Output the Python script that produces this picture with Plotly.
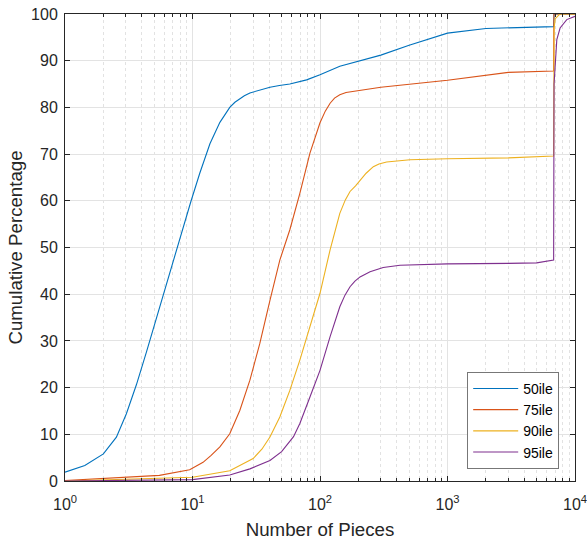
import plotly.graph_objects as go

# ---- data ----
x50 = [1, 1.43, 2, 2.53, 3.03, 3.63, 4.35, 5.22, 6.25, 7.49, 8.44, 9.7, 11.4, 13.7, 16.4, 18, 19.6, 21.5, 23.5, 25.5, 28.2, 34, 40.5, 48, 58, 78.5, 100, 143, 200, 300, 500, 1000, 2000, 4000, 6800, 6850, 10000]
y50 = [1.9, 3.3, 5.8, 9.4, 14.4, 20.6, 27.6, 35.0, 42.5, 49.5, 54.2, 59.8, 65.9, 72.2, 76.8, 78.6, 80.0, 81.1, 81.9, 82.5, 83.1, 83.8, 84.3, 84.7, 85.0, 85.9, 87.0, 88.8, 89.9, 91.2, 93.3, 95.9, 96.9, 97.2, 97.3, 100, 100]

x75 = [1, 2, 5.5, 9.5, 12.1, 14, 16.4, 19.6, 23.5, 28.2, 33.7, 40.5, 48.4, 58, 69.5, 83.4, 100, 110, 120, 130, 143, 160, 200, 300, 1000, 3000, 6800, 6830, 10000]
y75 = [0.1, 0.5, 1.2, 2.4, 4.0, 5.5, 7.3, 10.1, 15.1, 21.6, 29.4, 38.7, 47.3, 53.8, 61.6, 70.2, 76.7, 79.2, 80.9, 82.0, 82.7, 83.2, 83.6, 84.3, 85.8, 87.5, 87.8, 100, 100]

x90 = [1, 10, 19.6, 29.9, 35, 40.5, 48.4, 58, 69.5, 83.4, 100, 120, 143, 158, 172, 190, 206, 230, 262, 290, 333, 508, 1000, 3000, 6800, 6860, 7000, 7600, 10000]
y90 = [0.0, 0.8, 2.2, 4.8, 6.8, 9.4, 13.7, 19.4, 25.9, 33.0, 40.2, 49.5, 57.3, 60.2, 62.0, 63.2, 64.4, 65.9, 67.3, 67.9, 68.3, 68.8, 69.0, 69.2, 69.6, 97, 99, 100, 100]

x95 = [1, 10, 19.6, 28.2, 40.5, 50, 62, 69.5, 83.4, 100, 120, 143, 157, 172, 188, 206, 247, 313, 424, 1000, 3000, 5000, 6800, 6850, 7200, 7640, 8620, 10000]
y95 = [0.0, 0.3, 1.3, 2.6, 4.4, 6.3, 9.5, 12.3, 18.0, 23.7, 30.9, 37.3, 39.8, 41.6, 42.8, 43.7, 44.8, 45.7, 46.2, 46.5, 46.6, 46.7, 47.3, 85, 94.5, 97, 98.8, 99.5]

names = ["50ile", "75ile", "90ile", "95ile"]
colors = ["#0072BD", "#D95319", "#EDB120", "#7E2F8E"]

xtick_vals = [1, 10, 100, 1000, 10000]
xtick_text = ["10<sup>0</sup>", "10<sup>1</sup>", "10<sup>2</sup>", "10<sup>3</sup>", "10<sup>4</sup>"]
minor_vals = [m * 10 ** k for k in range(4) for m in range(2, 10)]

fig = go.Figure()
for xs, ys, n, c in zip([x50, x75, x90, x95], [y50, y75, y90, y95], names, colors):
    fig.add_trace(go.Scatter(x=xs, y=ys, mode="lines", name=n,
                             line=dict(color=c, width=1.1)))

FAM = "Liberation Sans, Arial, sans-serif"
tick_font = dict(family=FAM, size=16, color="#262626")
fig.update_layout(
    width=587, height=540,
    margin=dict(l=65, r=12, t=14, b=59),
    paper_bgcolor="white", plot_bgcolor="white",
    font=dict(family=FAM, size=14, color="#262626"),
    showlegend=True,
    legend=dict(x=0.969, y=0.026, xanchor="right", yanchor="bottom",
                bgcolor="white", bordercolor="#777777", borderwidth=1,
                font=dict(family=FAM, size=14, color="#000000"),
                itemwidth=45, tracegroupgap=0),
)
fig.update_xaxes(
    type="log", range=[0, 4], automargin=False,
    tickvals=xtick_vals, ticktext=xtick_text,
    ticks="inside", ticklen=5, tickcolor="#262626", ticklabelstandoff=9,
    ticklabeloverflow="allow",
    showline=True, linecolor="#262626", linewidth=1, mirror="allticks",
    showgrid=True, gridcolor="#e3e3e3", gridwidth=1,
    zeroline=False,
    minor=dict(tickvals=minor_vals, ticks="inside", ticklen=3, tickcolor="#262626",
               showgrid=True, gridcolor="#e2e2e2", griddash="dot", gridwidth=1),
    title=dict(text="Number of Pieces", font=dict(family=FAM, size=18.7, color="#262626"), standoff=11),
    tickfont=tick_font,
)
fig.update_yaxes(
    range=[0, 100], dtick=10, automargin=False,
    ticks="inside", ticklen=5, tickcolor="#262626", ticklabelstandoff=3,
    ticklabeloverflow="allow",
    showline=True, linecolor="#262626", linewidth=1, mirror="allticks",
    showgrid=True, gridcolor="#e3e3e3", gridwidth=1,
    zeroline=False,
    title=dict(text="Cumulative Percentage", font=dict(family=FAM, size=18.7, color="#262626"), standoff=3),
    tickfont=tick_font,
)

# remove the default 8px page margin so the figure sits at the window's corner
fig.write_html("out.html", config={"displayModeBar": False},
               post_script="document.body.style.margin='0';")
